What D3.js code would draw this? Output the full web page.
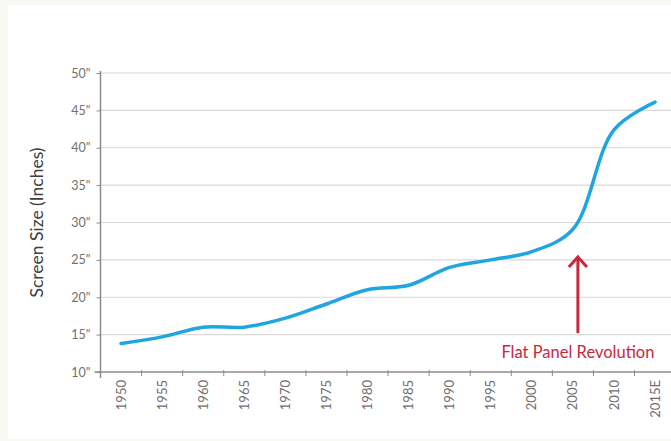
<!DOCTYPE html>
<html>
<head>
<meta charset="utf-8">
<script src="https://cdn.jsdelivr.net/npm/d3@7"></script>
<style>
  body { margin: 0; background: #f9f8f4; }
  svg { display: block; }
</style>
</head>
<body>
<div id="chart"></div>
<script>
// data
var years = ["1950", "1955", "1960", "1965", "1970", "1975", "1980", "1985",
             "1990", "1995", "2000", "2005", "2010", "2015E"];
var screenSize = [13.8, 14.7, 16.0, 16.0, 17.2, 19.1, 21.0, 21.6,
                  24.0, 25.0, 26.1, 29.1, 42.4, 46.1];
var yTicks = [10, 15, 20, 25, 30, 35, 40, 45, 50];

// annotation
var noteYear = "2005";
var noteText = "Flat Panel Revolution";
var noteTop = 25.4, noteBottom = 15.2, noteLabel = 11.9;

function drawChart() {
	var width = 671, height = 441;
	var left = 100.5, top = 73, bottom = 372;
	var font = "Lato, 'Open Sans', sans-serif";

	var svg = d3.select("#chart")
		.append("svg")
		.attr("width", width)
		.attr("height", height);

	// white panel
	svg.append("rect")
		.attr("x", 8).attr("y", 5)
		.attr("width", width - 8).attr("height", 434)
		.attr("fill", "#ffffff");

	var data = years.map(function(d, i) { return {Year: d, Size: screenSize[i]}; });

	var x = d3.scaleBand()
		.domain(years)
		.range([left, 675.6]);

	var y = d3.scaleLinear()
		.domain([10, 50])
		.range([bottom, top]);

	// horizontal gridlines
	svg.append("g")
		.selectAll("line")
		.data(yTicks.slice(1))
		.join("line")
		.attr("x1", left)
		.attr("x2", width)
		.attr("y1", d => y(d))
		.attr("y2", d => y(d))
		.attr("stroke", "#d9d9d9")
		.attr("stroke-width", 1.2);

	// Y axis
	var yAxis = svg.append("g")
		.attr("transform", "translate(" + left + ",0)")
		.call(d3.axisLeft(y).tickValues(yTicks).tickSize(4).tickPadding(6)
			.tickFormat(d => d + '"'));
	yAxis.select(".domain").remove();
	yAxis.append("line")
		.attr("x1", 0).attr("x2", 0)
		.attr("y1", top - 2).attr("y2", bottom + 6)
		.attr("stroke", "#8c8c8c").attr("stroke-width", 1.5);
	yAxis.selectAll(".tick line").attr("stroke", "#8c8c8c");
	yAxis.selectAll("text")
		.attr("fill", "#707070")
		.style("font-family", font)
		.style("font-size", "12.5px");

	// X axis, ticks between categories
	var xAxis = svg.append("g")
		.attr("transform", "translate(0," + bottom + ")")
		.call(d3.axisBottom(x).tickSize(0).tickPadding(8));
	xAxis.select(".domain").remove();
	xAxis.append("line")
		.attr("x1", left - 6).attr("x2", width)
		.attr("stroke", "#8c8c8c").attr("stroke-width", 1.5);
	xAxis.append("g")
		.selectAll("line")
		.data(years.slice(1))
		.join("line")
		.attr("x1", d => x(d))
		.attr("x2", d => x(d))
		.attr("y1", -2)
		.attr("y2", 4)
		.attr("stroke", "#8c8c8c");
	xAxis.selectAll(".tick text")
		.attr("transform", "rotate(-90)")
		.attr("text-anchor", "end")
		.attr("x", -8)
		.attr("y", 0)
		.attr("dy", "0.35em")
		.attr("fill", "#707070")
		.style("font-family", font)
		.style("font-size", "13px");

	// Y axis title
	svg.append("text")
		.attr("transform", "translate(43," + ((top + bottom) / 2) + ") rotate(-90)")
		.attr("text-anchor", "middle")
		.attr("fill", "#404040")
		.style("font-family", font)
		.style("font-size", "17.5px")
		.text("Screen Size (Inches)");

	// the line
	var line = d3.line()
		.x(d => x(d.Year) + x.bandwidth() / 2)
		.y(d => y(d.Size))
		.curve(d3.curveCatmullRom.alpha(0.5));

	svg.append("path")
		.datum(data)
		.attr("d", line)
		.attr("fill", "none")
		.attr("stroke", "#1fa5e0")
		.attr("stroke-width", 3.5)
		.attr("stroke-linecap", "round");

	// annotation arrow
	var ax = x(noteYear) + x.bandwidth() / 2 + 5;
	var red = "#c8283c";
	svg.append("line")
		.attr("x1", ax).attr("x2", ax)
		.attr("y1", y(noteBottom)).attr("y2", y(noteTop) + 1)
		.attr("stroke", red).attr("stroke-width", 3);
	svg.append("path")
		.attr("d", "M" + (ax - 9) + "," + (y(noteTop) + 10) + "L" + ax + "," + y(noteTop) +
			"L" + (ax + 9) + "," + (y(noteTop) + 10))
		.attr("fill", "none")
		.attr("stroke", red)
		.attr("stroke-width", 3);
	svg.append("text")
		.attr("x", ax)
		.attr("y", y(noteLabel))
		.attr("text-anchor", "middle")
		.attr("fill", red)
		.style("font-family", font)
		.style("font-size", "16.5px")
		.text(noteText);
}

drawChart();
</script>
</body>
</html>
